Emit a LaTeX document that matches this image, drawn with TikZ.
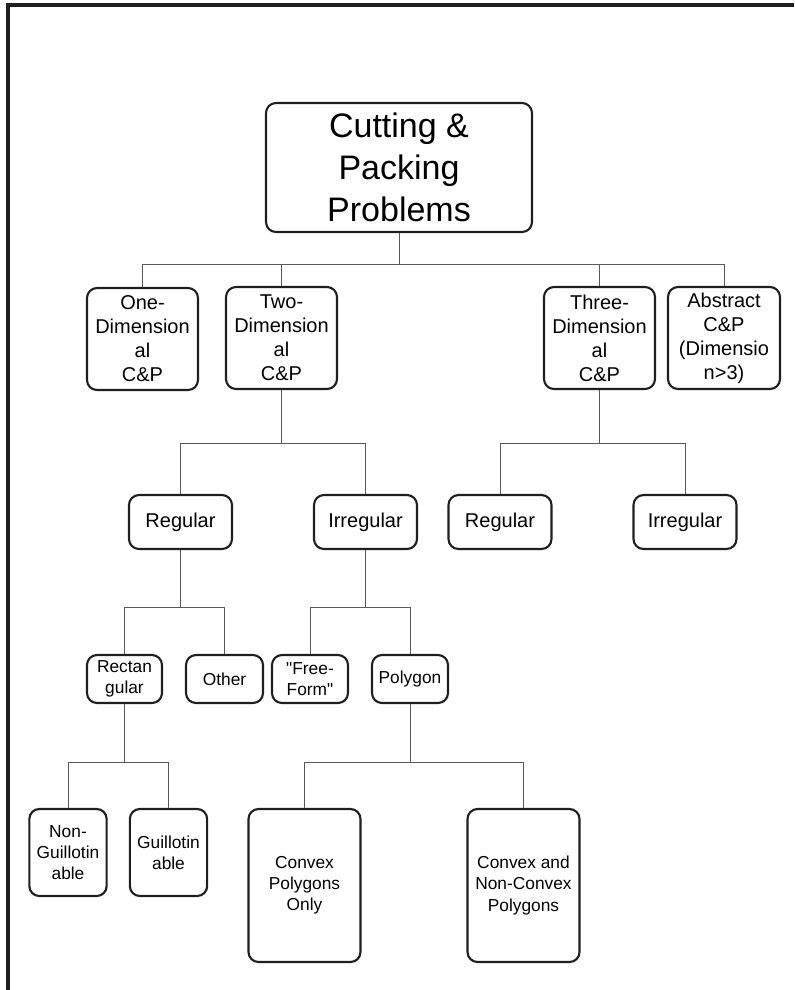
\documentclass[tikz,border=0pt]{standalone}
\usepackage{fontspec}
\setmainfont{Liberation Sans}[Ligatures = TeXOff]

\begin{document}
\begin{tikzpicture}[x = 0.75pt, y = -0.75pt,
	box/.style = {draw = black!88, line width = 1.6pt, rounded corners = 7.5pt, inner sep = 0pt, align = center},
	rootbox/.style = {box, minimum width = 199.5pt, minimum height = 96.75pt, font = \fontsize{25.5}{31.5}\selectfont},
	dimbox/.style = {box, minimum width = 83.25pt, minimum height = 76.5pt, font = \fontsize{15}{18}\selectfont},
	shapebox/.style = {box, minimum width = 77.25pt, minimum height = 40.5pt, font = \fontsize{15}{18}\selectfont},
	kindbox/.style = {box, minimum width = 57pt, minimum height = 36pt, font = \fontsize{13}{15.3}\selectfont},
	cutbox/.style = {box, minimum width = 58pt, minimum height = 65.25pt, font = \fontsize{13}{15.8}\selectfont},
	polybox/.style = {box, minimum width = 84pt, minimum height = 114.75pt, font = \fontsize{13}{15.8}\selectfont},
	link/.style = {draw = black!65, line width = 0.6pt}]

	\useasboundingbox (0, 0) rectangle (794, 990);

	% Frame
	
	\draw [line width = 3pt, black!88] (8, 990) -- (8, 5) -- (794, 5);
	
	% Root
	
	\node [rootbox] (root) at (399, 167.5) {Cutting \&\\ Packing\\ Problems};
	
	% Dimensions
	
	\node [dimbox] (one) at (142.5, 339) {One-\\ Dimension\\ al\\ C\&P};
	\node [dimbox] (two) at (281.5, 338) {Two-\\ Dimension\\ al\\ C\&P};
	\node [dimbox] (three) at (599.5, 338) {Three-\\ Dimension\\ al\\ C\&P};
	\node [dimbox, minimum width = 84pt] (abstract) at (724, 338) {Abstract\\ C\&P\\ (Dimensio\\ n>3)};
	
	% Regular / irregular
	
	\node [shapebox] (reg) at (180.5, 522) {Regular};
	\node [shapebox] (irreg) at (365.5, 522) {Irregular};
	\node [shapebox] (reg3d) at (500, 522) {Regular};
	\node [shapebox] (irreg3d) at (685, 522) {Irregular};
	
	% Item shapes
	
	\node [kindbox, minimum width = 56.25pt] (rect) at (124.5, 679) {Rectan\\ gular};
	\node [kindbox, minimum width = 57.75pt] (other) at (224.5, 679) {Other};
	\node [kindbox] (free) at (310, 679) {"Free-\\ Form"};
	\node [kindbox] (poly) at (410, 679) {Polygon};
	
	% Cut types and polygon types
	
	\node [cutbox] (nonguil) at (68, 852.5) {Non-\\ Guillotin\\ able};
	\node [cutbox] (guil) at (168.5, 852.5) {Guillotin\\ able};
	\node [polybox] (convex) at (304.5, 885.5) {Convex\\ Polygons\\ Only};
	\node [polybox] (nonconvex) at (523.5, 885.5) {Convex and\\ Non-Convex\\ Polygons};
	
	% Connectors
	
	\coordinate (bus1) at (0, 264);
	\coordinate (bus2) at (0, 443);
	\coordinate (bus3) at (0, 607);
	\coordinate (bus4) at (0, 762);
	
	\draw [link] (root.south) -- (root.south |- bus1) -| (one.north);
	\draw [link] (root.south) -- (root.south |- bus1) -| (two.north);
	\draw [link] (root.south) -- (root.south |- bus1) -| (three.north);
	\draw [link] (root.south) -- (root.south |- bus1) -| (abstract.north);
	
	\draw [link] (two.south) -- (two.south |- bus2) -| (reg.north);
	\draw [link] (two.south) -- (two.south |- bus2) -| (irreg.north);
	\draw [link] (three.south) -- (three.south |- bus2) -| (reg3d.north);
	\draw [link] (three.south) -- (three.south |- bus2) -| (irreg3d.north);
	
	\draw [link] (reg.south) -- (reg.south |- bus3) -| (rect.north);
	\draw [link] (reg.south) -- (reg.south |- bus3) -| (other.north);
	\draw [link] (irreg.south) -- (irreg.south |- bus3) -| (free.north);
	\draw [link] (irreg.south) -- (irreg.south |- bus3) -| (poly.north);
	
	\draw [link] (rect.south) -- (rect.south |- bus4) -| (nonguil.north);
	\draw [link] (rect.south) -- (rect.south |- bus4) -| (guil.north);
	\draw [link] (poly.south) -- (poly.south |- bus4) -| (convex.north);
	\draw [link] (poly.south) -- (poly.south |- bus4) -| (nonconvex.north);
	
\end{tikzpicture}
\end{document}
